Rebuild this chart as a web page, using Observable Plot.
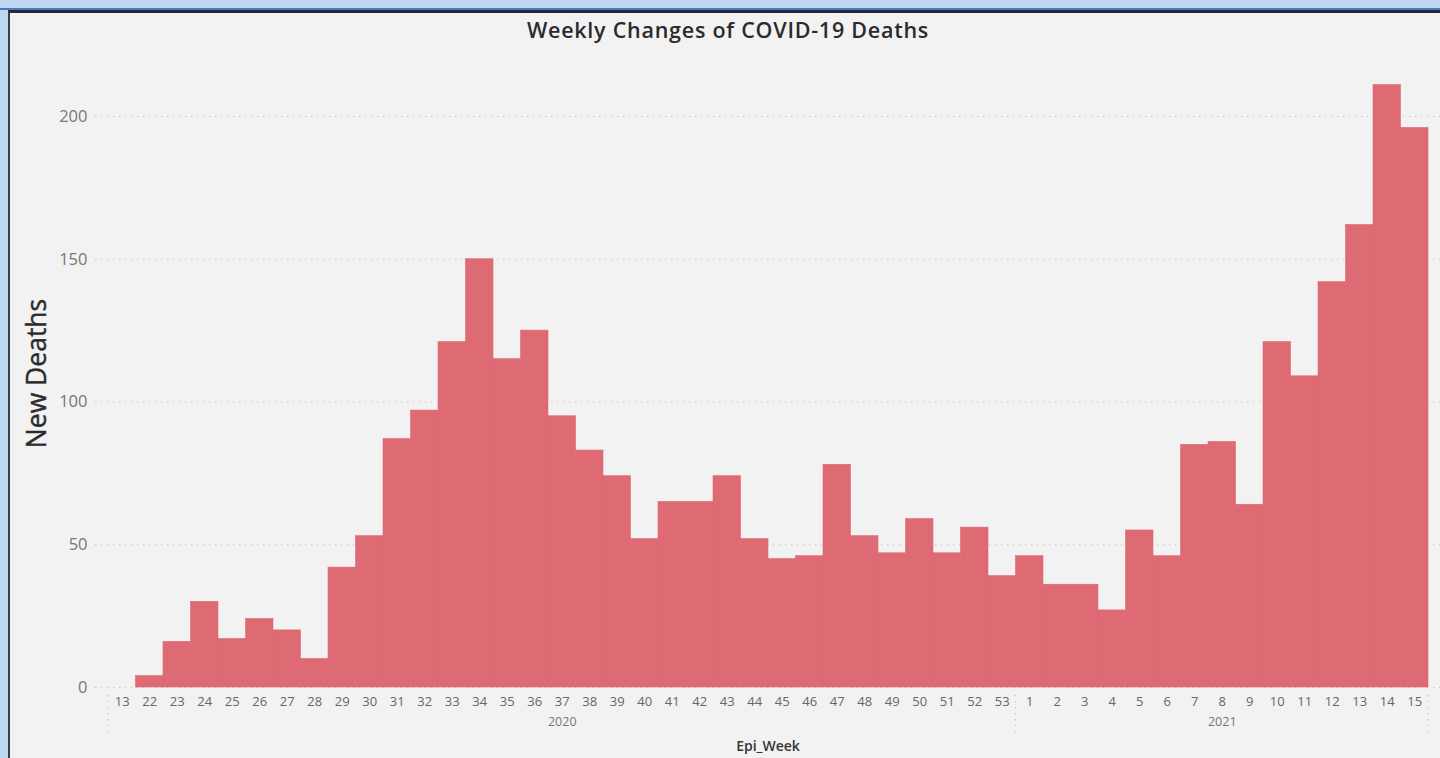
<!DOCTYPE html>
<html><head><meta charset="utf-8">
<script src="https://cdn.jsdelivr.net/npm/d3@7"></script>
<script src="https://cdn.jsdelivr.net/npm/@observablehq/plot@0.6"></script>
<style>
html,body{margin:0;padding:0;width:1440px;height:758px;overflow:hidden;background:#bdd7ee;font-family:"Open Sans",sans-serif}
#frame{position:absolute;left:8px;top:10px;width:1432px;height:748px;background:#f2f2f2;border-top:3px solid #1f2a36;border-left:2px solid #3a3f45;box-sizing:border-box}
#band{position:absolute;left:0;top:8px;width:1440px;height:2px;background:#4a78c2}
#chart{position:absolute;left:0;top:0}
#title{position:absolute;top:17px;left:0;width:1456px;text-align:center;font-size:21.5px;line-height:26px;font-weight:600;color:#2b2b2b;letter-spacing:0.75px}
</style></head>
<body>
<div id="band"></div>
<div id="frame"></div>
<div id="title">Weekly Changes of COVID-19 Deaths</div>
<div id="chart"></div>
<script>
const weeks2020 = [13,22,23,24,25,26,27,28,29,30,31,32,33,34,35,36,37,38,39,40,41,42,43,44,45,46,47,48,49,50,51,52,53];
const deaths2020 = [0,4,16,30,17,24,20,10,42,53,87,97,121,150,115,125,95,83,74,52,65,65,74,52,45,46,78,53,47,59,47,56,39];
const weeks2021 = [1,2,3,4,5,6,7,8,9,10,11,12,13,14,15];
const deaths2021 = [46,36,36,27,55,46,85,86,64,121,109,142,162,211,196];
const yTicks = [0,50,100,150,200];
const yearLabels = [{year:"2020", at:"2020-37"},{year:"2021", at:"2021-8"}];

const data = [
  ...weeks2020.map((w,i)=>({key:`2020-${w}`, year:"2020", week:w, deaths:deaths2020[i]})),
  ...weeks2021.map((w,i)=>({key:`2021-${w}`, year:"2021", week:w, deaths:deaths2021[i]}))
];
const keys = data.map(d=>d.key);

const chart = Plot.plot({
  width:1440, height:758,
  marginLeft:95, marginRight:0, marginTop:59, marginBottom:71,
  style:{background:"transparent", fontFamily:"'Open Sans', sans-serif"},
  x:{type:"band", domain:keys, range:[108,1428], padding:0, round:false},
  y:{domain:[0,200], range:[687,116]},
  marks:[
    Plot.ruleY(yTicks, {stroke:"#c4c4c4", strokeWidth:1.2, strokeDasharray:"1.2,4.8"}),
    Plot.barY(data, {x:"key", y:"deaths", fill:"#de6a73", stroke:"#de6a73", strokeWidth:0.6}),
    Plot.axisY({ticks:yTicks, tickSize:0, tickPadding:8, fontSize:16.5, color:"#777", label:null}),
    Plot.axisX({tickSize:0, tickPadding:9, fontSize:13, color:"#666", label:null, tickFormat:k=>k.split("-")[1]}),
    Plot.text(yearLabels, {x:"at", text:"year", frameAnchor:"bottom", lineAnchor:"middle", dy:34, fontSize:12.5, fill:"#777"}),
    Plot.text(["Epi_Week"], {frameAnchor:"bottom", lineAnchor:"middle", dy:59, fontSize:14, fontWeight:600, fill:"#333"}),
    Plot.text(["New Deaths"], {frameAnchor:"left", textAnchor:"middle", dx:-58, rotate:-90, fontSize:26.5, fill:"#2b2b2b", stroke:"#2b2b2b", strokeWidth:0.4})
  ]
});
document.getElementById("chart").appendChild(chart);

// year group separators under the axis
const xs = chart.scale("x"), ys = chart.scale("y");
const y0 = ys.apply(0);
const firstOfYear = [keys[0], `2021-${weeks2021[0]}`];
const seps = firstOfYear.map(k=>xs.apply(k)).concat([xs.apply(keys[keys.length-1]) + xs.bandwidth]);
d3.select(chart).append("g")
  .selectAll("line").data(seps).join("line")
  .attr("x1", d=>d).attr("x2", d=>d)
  .attr("y1", y0+8).attr("y2", y0+45)
  .attr("stroke", "#c4c4c4").attr("stroke-width", 1.2).attr("stroke-dasharray", "1.2,4.8");
</script>
</body></html>
